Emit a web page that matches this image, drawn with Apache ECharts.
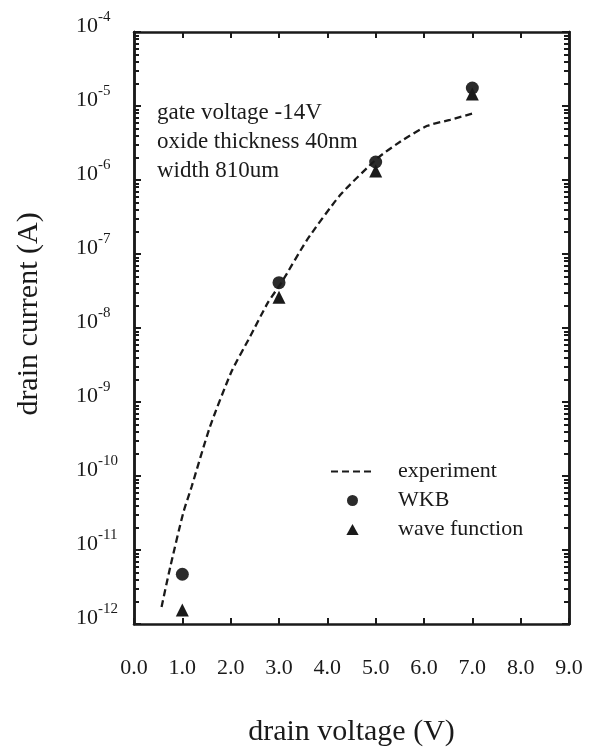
<!DOCTYPE html>
<html>
<head>
<meta charset="utf-8">
<script src="https://cdn.jsdelivr.net/npm/echarts@6/dist/echarts.min.js"></script>
<style>
  html, body { margin: 0; padding: 0; background: #fff; }
  #chart { width: 609px; height: 749px; }
</style>
</head>
<body>
<div id="chart"></div>
<script>
// experiment (dashed curve), drain voltage in V, drain current in A
const expV = [0.57, 0.75, 1.02, 1.19, 1.57, 2.02, 2.40, 2.77, 3.06, 3.58, 4.27, 5.05, 5.57, 6.07, 6.54, 7.06]
const expI = [1.7e-12, 5.9e-12, 3.2e-11, 7.1e-11, 4.6e-10, 2.6e-9, 7.6e-9, 2.2e-8, 4.2e-8, 1.55e-7, 6.3e-7, 2.0e-6, 3.5e-6, 5.4e-6, 6.5e-6, 8.1e-6]

// simulated points
const simV = [1, 3, 5, 7]
const wkbI = [4.7e-12, 4.1e-8, 1.75e-6, 1.75e-5]
const waveI = [1.55e-12, 2.6e-8, 1.32e-6, 1.45e-5]

const decades = [-12, -11, -10, -9, -8, -7, -6, -5, -4]
const xTicks = [0, 1, 2, 3, 4, 5, 6, 7, 8, 9]

const noteLines = ['gate voltage -14V', 'oxide thickness 40nm', 'width 810um']

const FONT = 'Liberation Serif'
const INK = '#1a1a1a'

// log minor ticks 2..9 in each decade
const minorTicks = []
decades.slice(0, -1).forEach(n => {
  for (let k = 2; k <= 9; k++) minorTicks.push(k * Math.pow(10, n))
})
const majorTicks = decades.map(n => Math.pow(10, n))

function zip(xs, ys) {
  return xs.map((x, i) => [x, ys[i]])
}

function logAxis(pos, opts) {
  return Object.assign({
    type: 'log',
    logBase: 10,
    position: pos,
    min: majorTicks[0],
    max: majorTicks[majorTicks.length - 1],
    splitNumber: 8,
    axisLine: {show: true, lineStyle: {color: INK, width: 2.5}},
    splitLine: {show: false},
    axisLabel: {show: false},
    axisTick: {show: true, inside: true, length: 7, lineStyle: {color: INK, width: 2}}
  }, opts)
}

const minorTick = {show: true, inside: true, length: 5, customValues: minorTicks, lineStyle: {color: INK, width: 2}}

const chart = echarts.init(document.getElementById('chart'))

chart.setOption({
  animation: false,
  backgroundColor: '#fff',
  textStyle: {fontFamily: FONT, color: INK},
  title: {
    text: noteLines.join('\n'),
    left: 157,
    top: 98,
    padding: 0,
    textStyle: {fontFamily: FONT, fontSize: 23, fontWeight: 'normal', color: INK, lineHeight: 29}
  },
  legend: {
    orient: 'vertical',
    left: 330,
    top: 457,
    padding: 0,
    itemGap: 0,
    itemWidth: 43,
    itemHeight: 11,
    textStyle: {fontFamily: FONT, fontSize: 22, color: INK, lineHeight: 29, padding: [0, 0, 0, 19]},
    data: [
      {name: 'experiment', itemStyle: {opacity: 0}},
      {name: 'WKB', icon: 'circle'},
      {name: 'wave function', icon: 'path://M5,0L10,9L0,9Z'}
    ]
  },
  grid: {left: 134, right: 40, top: 32, bottom: 125, outerBoundsMode: 'none', containLabel: false},
  xAxis: [{
    type: 'value',
    position: 'bottom',
    min: 0,
    max: 9,
    interval: 1,
    name: 'drain voltage (V)',
    nameLocation: 'middle',
    nameGap: 93,
    nameTextStyle: {fontFamily: FONT, fontSize: 30, color: INK},
    axisLine: {show: true, lineStyle: {color: INK, width: 2.5}},
    axisTick: {show: true, inside: true, length: 6, lineStyle: {color: INK, width: 2}},
    splitLine: {show: false},
    axisLabel: {
      margin: 33,
      fontFamily: FONT,
      fontSize: 22,
      color: INK,
      formatter: v => xTicks.includes(v) ? v.toFixed(1) : ''
    }
  }, {
    type: 'value',
    position: 'top',
    min: 0,
    max: 9,
    interval: 1,
    axisLine: {show: true, lineStyle: {color: INK, width: 2.5}},
    axisTick: {show: true, inside: true, length: 6, lineStyle: {color: INK, width: 2}},
    splitLine: {show: false},
    axisLabel: {show: false}
  }],
  yAxis: [
    logAxis('left', {
      name: 'drain current (A)',
      nameLocation: 'middle',
      nameGap: 90,
      nameTextStyle: {fontFamily: FONT, fontSize: 30, color: INK, padding: [0, 0, 0, 28]},
      axisLabel: {
        show: true,
        align: 'left',
        verticalAlign: 'bottom',
        margin: 58,
        formatter: v => '{b|10}{s|' + Math.round(Math.log10(v)) + '}',
        rich: {
          b: {fontFamily: FONT, fontSize: 22, color: INK, lineHeight: 22, padding: [10, 0, 0, 0]},
          s: {fontFamily: FONT, fontSize: 15, color: INK, lineHeight: 15, verticalAlign: 'top'}
        }
      }
    }),
    logAxis('left', {axisTick: minorTick}),
    logAxis('right'),
    logAxis('right', {axisTick: minorTick})
  ],
  series: [{
    name: 'experiment',
    type: 'line',
    data: zip(expV, expI),
    symbol: 'none',
    smooth: 0.2,
    lineStyle: {color: INK, width: 2.3, type: [7, 4]},
    itemStyle: {color: INK}
  }, {
    name: 'WKB',
    type: 'scatter',
    data: zip(simV, wkbI),
    symbol: 'circle',
    symbolSize: 13,
    itemStyle: {color: '#2b2b2b', opacity: 1}
  }, {
    name: 'wave function',
    type: 'scatter',
    data: zip(simV, waveI),
    symbol: 'triangle',
    symbolSize: 13,
    itemStyle: {color: INK, opacity: 1}
  }]
})
</script>
</body>
</html>
